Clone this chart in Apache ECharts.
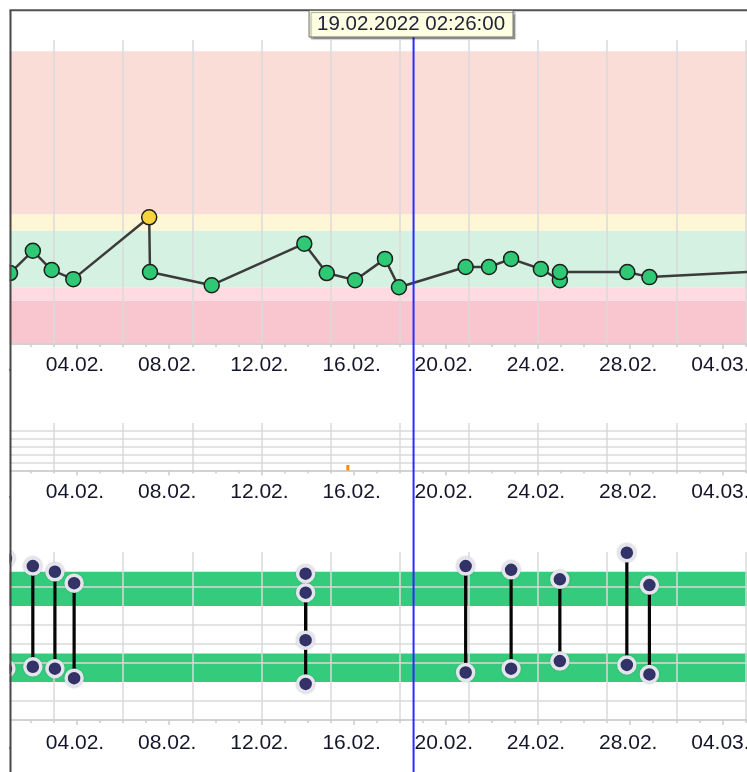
<!DOCTYPE html>
<html>
<head>
<meta charset="utf-8">
<script src="https://cdn.jsdelivr.net/npm/echarts@6/dist/echarts.min.js"></script>
<style>
  html, body { margin: 0; padding: 0; background: #ffffff; }
  #chart { width: 747px; height: 772px; }
</style>
</head>
<body>
<div id="chart"></div>
<script>
// ---- data ---------------------------------------------------------------
// Glucose readings (top panel)
const glucoseTimes = [
  '01.02.2022 14:15', '02.02.2022 14:00', '03.02.2022 09:40', '04.02.2022 08:10',
  '07.02.2022 15:10', '07.02.2022 16:00', '10.02.2022 08:15', '14.02.2022 08:40',
  '15.02.2022 08:00', '16.02.2022 13:30', '17.02.2022 20:40', '18.02.2022 11:15',
  '21.02.2022 08:40', '22.02.2022 09:00', '23.02.2022 08:00', '24.02.2022 15:00',
  '25.02.2022 10:45', '25.02.2022 10:50', '28.02.2022 09:00', '01.03.2022 08:00',
  '06.03.2022 08:00'
];
const glucoseValues = [
  7.0, 9.2, 7.3, 6.4,
  12.5, 7.1, 5.8, 9.9,
  7.0, 6.3, 8.4, 5.6,
  7.6, 7.6, 8.4, 7.4,
  6.3, 7.1, 7.1, 6.6,
  7.2
];
// Range limits for the glucose zones (very low .. very high)
const glucoseZoneLimits = [0, 4.3, 5.6, 11.2, 12.8, 28.9];

// Event markers (middle panel)
const eventTimes = ['16.02.2022 06:00'];
const eventValues = [0.7];

// Blood pressure (bottom panel)
const bpTimes = [
  '01.02.2022 10:00', '02.02.2022 14:00', '03.02.2022 13:00', '04.02.2022 09:00',
  '14.02.2022 10:00', '14.02.2022 10:05', '21.02.2022 08:40', '23.02.2022 08:00',
  '25.02.2022 10:45', '28.02.2022 08:30', '01.03.2022 08:00'
];
const systolic  = [135, 131, 128, 122, 127, 117, 131, 129, 124, 138, 121];
const diastolic = [ 77,  78,  77,  72,  92,  69,  75,  77,  81,  79,  74];
const bpTargetRanges = [[110, 128], [70, 85]];
const bpGuideValues = [60, 80, 90, 100, 120];

// Cursor position
const cursorLabel = '19.02.2022 02:26:00';

// ---- time helpers ------------------------------------------------------
// The date axis counts days from 31.01.2022 12:00, so each labelled tick
// sits in the middle of its day.
const DAY = 86400000;
const ORIGIN = Date.UTC(2022, 0, 31, 12, 0, 0);
function toDays(s) {
  const m = s.match(/(\d+)\.(\d+)\.(\d+)\s+(\d+):(\d+)(?::(\d+))?/);
  const t = Date.UTC(+m[3], +m[2] - 1, +m[1], +m[4], +m[5], m[6] ? +m[6] : 0);
  return (t - ORIGIN) / DAY;
}
function pad(n) { return (n < 10 ? '0' : '') + n; }
function dayLabel(v) {
  const d = new Date(ORIGIN + v * DAY);
  return pad(d.getUTCDate()) + '.' + pad(d.getUTCMonth() + 1) + '.';
}

// ---- styles ------------------------------------------------------------
const FONT = 'Liberation Sans';
const GRID_COLOR = '#dadada';
const zoneColors = ['#f9c6cf', '#fddbe1', '#d5f1e1', '#fff6d6', '#fbddd7'];
const zonePointColors = ['#e8606f', '#f08a96', '#2fc874', '#f6d23c', '#ee6a55'];
const bpBandColor = '#35cb7c';

const X_MIN = 0, X_MAX = 36;
const gridsLayout = [
  { left: -15.2, width: 829.8, top: 40,  height: 304, outerBoundsMode: 'none', containLabel: false },
  { left: -15.2, width: 829.8, top: 423, height: 47.5, outerBoundsMode: 'none', containLabel: false },
  { left: -15.2, width: 829.8, top: 552, height: 168, outerBoundsMode: 'none', containLabel: false }
];
const labelMargins = [11, 11, 13];

function zoneIndex(v) {
  for (let i = 0; i < glucoseZoneLimits.length - 1; i++) {
    if (v >= glucoseZoneLimits[i] && v < glucoseZoneLimits[i + 1]) return i;
  }
  return glucoseZoneLimits.length - 2;
}

// For each panel: one axis carrying the date labels (4-day steps, daily
// minor ticks) and one silent axis carrying the 3-day vertical grid.
const xAxes = [];
gridsLayout.forEach((g, gi) => {
  xAxes.push({
    type: 'value', gridIndex: gi, min: X_MIN, max: X_MAX, interval: 4, z: 1,
    axisLine: { show: true, lineStyle: { color: '#d2d2d2', width: 2 } },
    axisTick: { show: true, length: 5, lineStyle: { color: '#cccccc', width: 1.5 } },
    minorTick: { show: true, splitNumber: 4, length: 3, lineStyle: { color: '#cccccc', width: 1.5 } },
    axisLabel: {
      formatter: dayLabel, color: '#15152a', fontSize: 21, fontFamily: FONT,
      margin: labelMargins[gi], padding: [0, 4, 0, 0], hideOverlap: false
    },
    splitLine: { show: false }
  });
  xAxes.push({
    type: 'value', gridIndex: gi, min: X_MIN, max: X_MAX, interval: 3, z: 1,
    axisLine: { show: false }, axisTick: { show: false }, axisLabel: { show: false },
    splitLine: { show: true, lineStyle: { color: GRID_COLOR, width: 1.5 } }
  });
});

const hiddenY = { axisLine: { show: false }, axisTick: { show: false }, axisLabel: { show: false } };
const yAxes = [
  Object.assign({ type: 'value', gridIndex: 0, min: 0, max: 30, splitLine: { show: false } }, hiddenY),
  Object.assign({ type: 'value', gridIndex: 1, min: 0, max: 6, interval: 1, z: 1,
    splitLine: { show: true, showMaxLine: false, lineStyle: { color: GRID_COLOR, width: 1.5 } } }, hiddenY),
  Object.assign({ type: 'value', gridIndex: 2, min: 50, max: 138.4, splitLine: { show: false } }, hiddenY)
];

const glucoseData = glucoseTimes.map((t, i) => ({
  value: [toDays(t), glucoseValues[i]],
  itemStyle: { color: zonePointColors[zoneIndex(glucoseValues[i])] }
}));

const bpPointStyle = {
  color: '#33336a', borderColor: '#e4e4ec', borderWidth: 3.5, opacity: 1,
  shadowBlur: 2, shadowColor: 'rgba(0,0,0,0.18)'
};

const option = {
  animation: false,
  backgroundColor: '#ffffff',
  grid: gridsLayout,
  xAxis: xAxes,
  yAxis: yAxes,
  series: [
    // glucose zones
    {
      type: 'custom', xAxisIndex: 0, yAxisIndex: 0, z: 0, silent: true,
      data: zoneColors.map((c, i) => [i]),
      renderItem(params, api) {
        const i = api.value(0);
        const cs = params.coordSys;
        const yTop = api.coord([X_MIN, glucoseZoneLimits[i + 1]])[1];
        const yBot = api.coord([X_MIN, glucoseZoneLimits[i]])[1];
        return { type: 'rect', shape: { x: cs.x, y: yTop, width: cs.width, height: yBot - yTop },
                 style: { fill: zoneColors[i] } };
      }
    },
    // glucose curve
    {
      type: 'line', xAxisIndex: 0, yAxisIndex: 0, z: 3,
      data: glucoseData,
      symbol: 'circle', symbolSize: 15,
      lineStyle: { color: '#3b3b3b', width: 2.5 },
      itemStyle: { borderColor: '#1e1e1e', borderWidth: 1.5 }
    },
    // event markers
    {
      type: 'bar', xAxisIndex: 2, yAxisIndex: 1, z: 3, barWidth: 3,
      data: eventTimes.map((t, i) => [toDays(t), eventValues[i]]),
      itemStyle: { color: '#ff8a00' }
    },
    // blood pressure target ranges and guide lines
    {
      type: 'custom', xAxisIndex: 4, yAxisIndex: 2, z: 0, silent: true,
      data: bpTargetRanges.map((r, i) => [i]).concat(bpGuideValues.map((v, i) => [100 + i])),
      renderItem(params, api) {
        const k = api.value(0);
        const cs = params.coordSys;
        if (k < 100) {
          const r = bpTargetRanges[k];
          const yTop = api.coord([X_MIN, r[1]])[1];
          const yBot = api.coord([X_MIN, r[0]])[1];
          return { type: 'rect', shape: { x: cs.x, y: yTop, width: cs.width, height: yBot - yTop },
                   style: { fill: bpBandColor } };
        }
        const y = api.coord([X_MIN, bpGuideValues[k - 100]])[1];
        return { type: 'line', shape: { x1: cs.x, y1: y, x2: cs.x + cs.width, y2: y },
                 style: { stroke: GRID_COLOR, lineWidth: 1.5 }, z2: 1 };
      }
    },
    // systolic–diastolic connectors
    {
      type: 'custom', xAxisIndex: 4, yAxisIndex: 2, z: 3, silent: true,
      data: bpTimes.map((t, i) => [toDays(t), systolic[i], diastolic[i]]),
      renderItem(params, api) {
        const a = api.coord([api.value(0), api.value(1)]);
        const b = api.coord([api.value(0), api.value(2)]);
        return { type: 'line', shape: { x1: a[0], y1: a[1], x2: b[0], y2: b[1] },
                 style: { stroke: '#050505', lineWidth: 3.2 } };
      }
    },
    {
      type: 'scatter', xAxisIndex: 4, yAxisIndex: 2, z: 4,
      data: bpTimes.map((t, i) => [toDays(t), systolic[i]]),
      symbolSize: 16,
      itemStyle: bpPointStyle
    },
    {
      type: 'scatter', xAxisIndex: 4, yAxisIndex: 2, z: 4,
      data: bpTimes.map((t, i) => [toDays(t), diastolic[i]]),
      symbolSize: 16,
      itemStyle: bpPointStyle
    }
  ]
};

const chart = echarts.init(document.getElementById('chart'), null, { renderer: 'canvas' });
chart.setOption(option);

// cursor line, its time box and the frame
const cx = chart.convertToPixel({ xAxisIndex: 0 }, toDays(cursorLabel));
chart.setOption({
  graphic: [
    { type: 'rect', z: 99, silent: true, shape: { x: 0, y: 0, width: 9.5, height: 772 }, style: { fill: '#ffffff' } },
    { type: 'rect', z: 99, silent: true, shape: { x: 0, y: 0, width: 747, height: 9.3 }, style: { fill: '#ffffff' } },
    { type: 'line', z: 100, silent: true, shape: { x1: cx, y1: 10, x2: cx, y2: 772 },
      style: { stroke: '#2b2bff', lineWidth: 2 } },
    { type: 'line', z: 101, silent: true, shape: { x1: 10.5, y1: 10.3, x2: 10.5, y2: 772 },
      style: { stroke: '#474747', lineWidth: 2 } },
    { type: 'line', z: 101, silent: true, shape: { x1: 9.5, y1: 10.3, x2: 747, y2: 10.3 },
      style: { stroke: '#505050', lineWidth: 2 } },
    { type: 'rect', z: 102, silent: true, shape: { x: cx - 104.5, y: 10.5, width: 204, height: 26.5 },
      style: { fill: '#ffffe1', stroke: '#6e6e6e', lineWidth: 1,
               shadowColor: 'rgba(0,0,0,0.35)', shadowOffsetX: 2, shadowOffsetY: 2, shadowBlur: 1 } },
    { type: 'text', z: 103, silent: true, x: cx - 2.5, y: 24.5,
      style: { text: cursorLabel, fontSize: 20.5, fontFamily: FONT, fill: '#23233a',
               align: 'center', verticalAlign: 'middle', textAlign: 'center', textVerticalAlign: 'middle' } }
  ]
});
</script>
</body>
</html>
